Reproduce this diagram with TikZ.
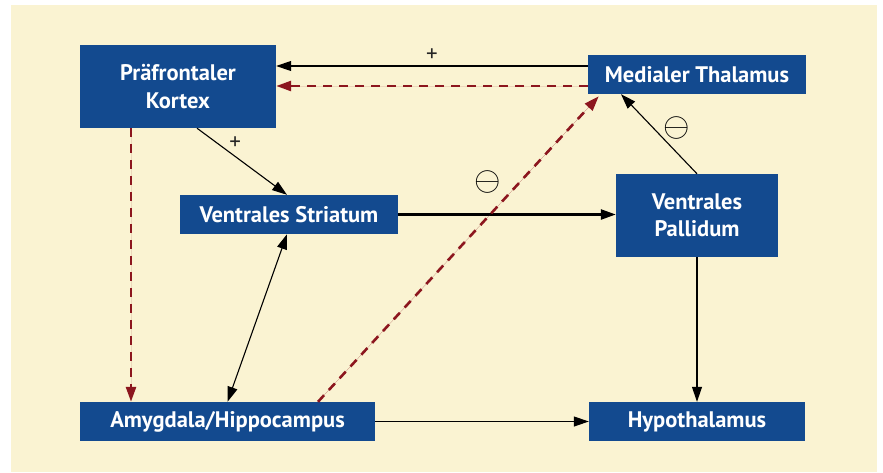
\documentclass[tikz,border=0pt]{standalone}
\usepackage{fontspec}
\newfontfamily\boxfont{PT Sans}
\usetikzlibrary{arrows.meta,positioning}
\definecolor{boxblue}{RGB}{19,74,143}
\definecolor{paper}{RGB}{250,243,210}
\definecolor{darkred}{RGB}{140,22,30}

\begin{document}
\begin{tikzpicture}[x=1pt,y=-1pt,
  region/.style={fill=boxblue,text=white,inner sep=0pt,align=center,
    font=\boxfont\bfseries\fontsize{22.5}{27.5}\selectfont},
  link/.style={-{Triangle[length=15pt,width=10pt]},line width=1.1pt},
  dashlink/.style={link,draw=darkred,fill=darkred,line width=2.6pt,dash pattern=on 9pt off 7pt},
  sign/.style={font=\boxfont\fontsize{23}{23}\selectfont,text=black!85,inner sep=1pt},
  bigsign/.style={inner sep=0pt}]
  \useasboundingbox (0,0) rectangle (883,472);
  \fill[paper] (11,5) rectangle (877,472); % background

  \node[region,minimum width=196pt,minimum height=83pt] (pfc) at (178,86.5) {Präfrontaler\\Kortex};
  \node[region,minimum width=218pt,minimum height=39pt] (mt) at (697,74.5) {Medialer Thalamus};
  \node[region,minimum width=218pt,minimum height=39pt] (vs) at (289,214.5) {Ventrales Striatum};
  \node[region,minimum width=162pt,minimum height=83pt] (vp) at (697,215.5) {Ventrales\\Pallidum};
  \node[region,minimum width=295pt,minimum height=39pt] (amy) at (227.5,421.5) {Amygdala/Hippocampus};
  \node[region,minimum width=216pt,minimum height=39pt] (hyp) at (697,421.5) {Hypothalamus};

  \draw[link] ([yshift=8.5pt]mt.west) -- node[sign,above=3pt]{+} ([yshift=8.5pt]mt.west -| pfc.east); % thalamus to cortex
  \draw[dashlink] ([yshift=-11.5pt]mt.west) -- ([yshift=-11.5pt]mt.west -| pfc.east);
  \draw[link] ([xshift=19pt]pfc.south) -- node[sign,pos=0.22,right=11pt]{+} ([xshift=-2pt]vs.north);
  \draw[link,line width=2.4pt] (vs.east) -- node[bigsign,pos=0.41,above=20pt]{\scalebox{3.4}{$\ominus$}} (vs.east -| vp.west);
  \draw[link] (vp.north) -- node[bigsign,pos=0.57,right=9pt]{\scalebox{3.4}{$\ominus$}} ([xshift=-76pt]mt.south);
  \draw[link] (vp.south) -- (hyp.north);
  \draw[link] (amy.east) -- (hyp.west);
  \draw[link,{Triangle[length=15pt,width=10pt]}-{Triangle[length=15pt,width=10pt]}] ([xshift=-2pt]vs.south) -- (amy.north);

  \draw[dashlink] ([xshift=90.5pt]amy.north) -- ([xshift=11pt,yshift=-2pt]mt.south west); % to thalamus
  \draw[dashlink] ([xshift=-47pt]pfc.south) -- ([xshift=-47pt]pfc.south |- amy.north); % to amygdala
\end{tikzpicture}
\end{document}
